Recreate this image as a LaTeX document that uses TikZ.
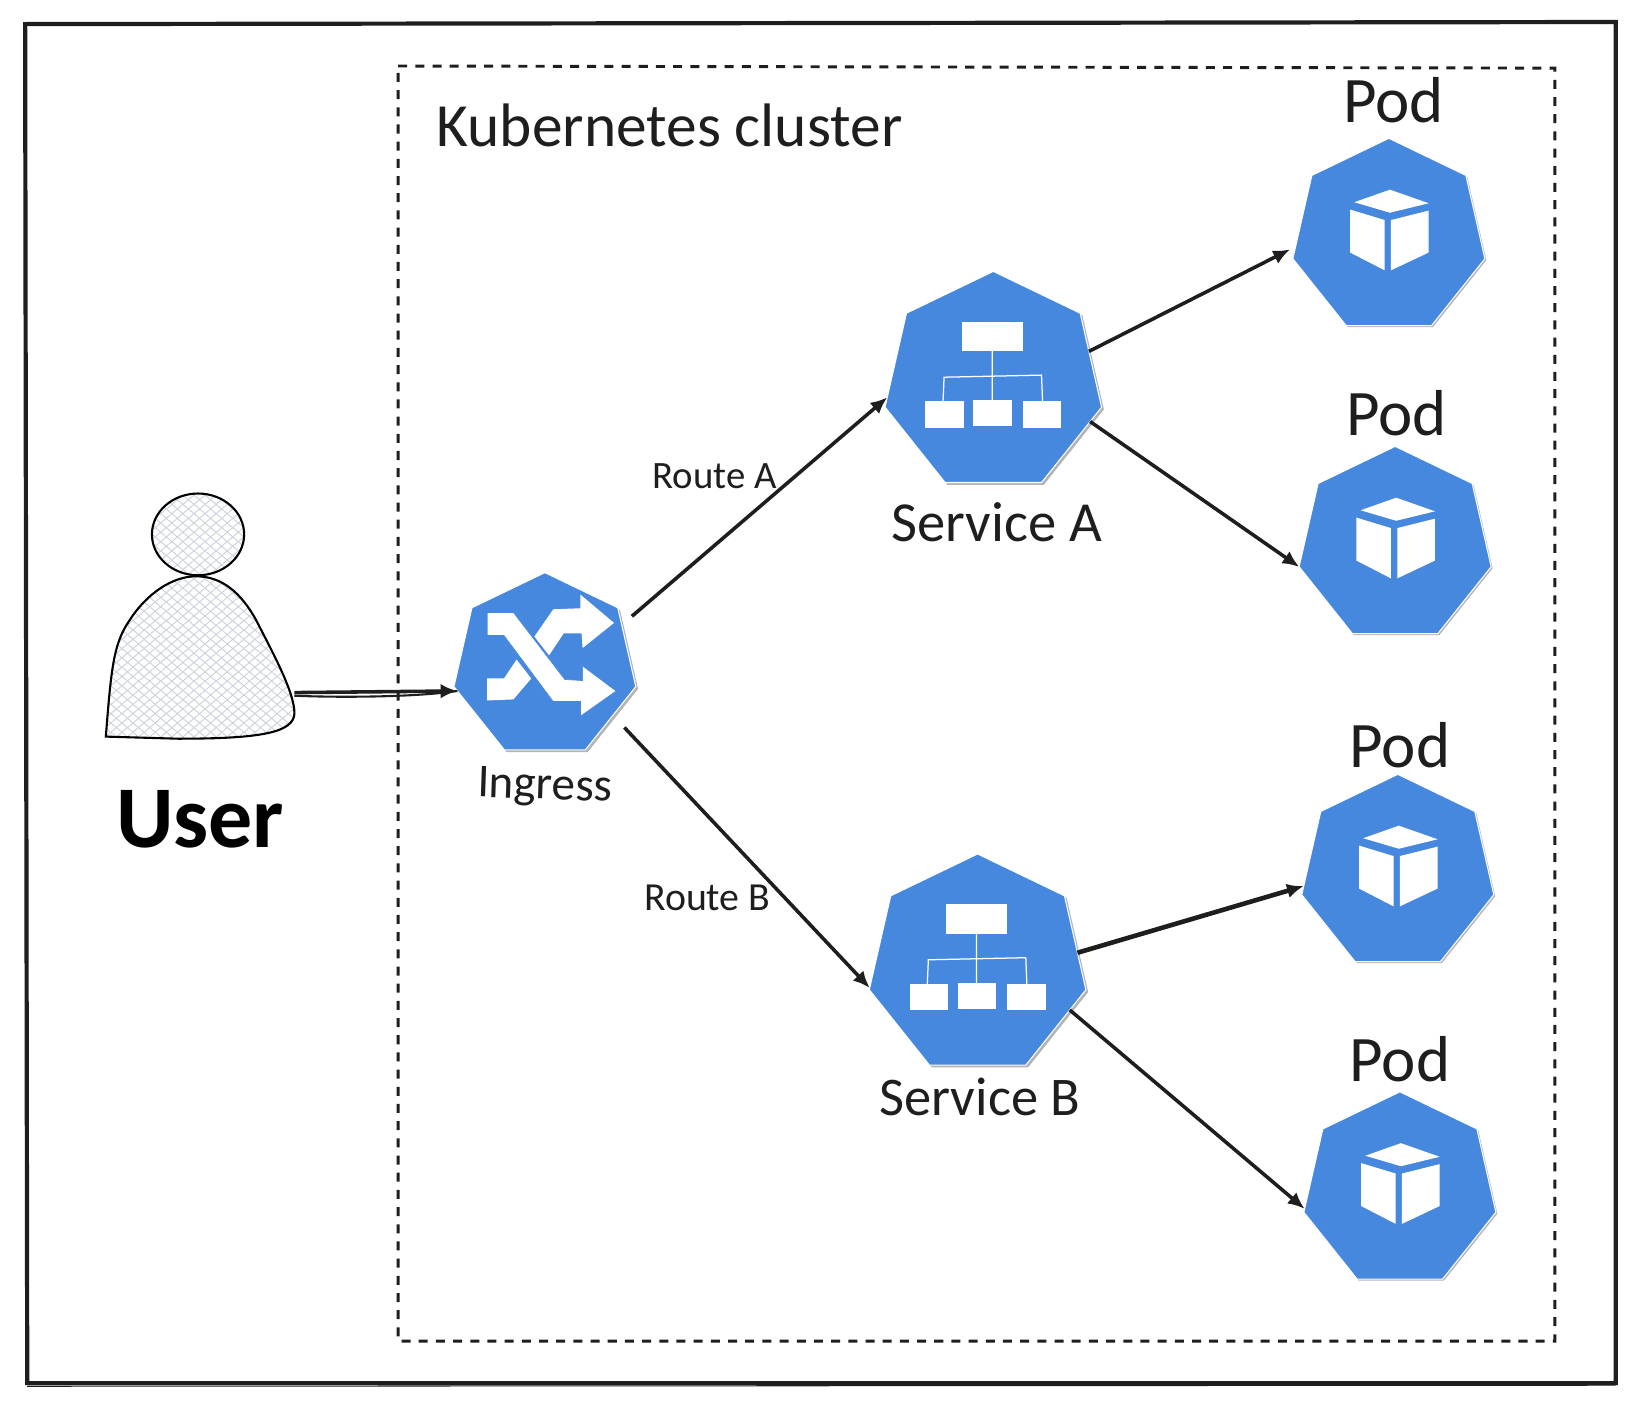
\documentclass[tikz,border=0pt]{standalone}
\usepackage{fontspec}
\setmainfont{Carlito}
\usetikzlibrary{shapes.geometric,arrows.meta,patterns.meta,shadows}
\definecolor{ink}{HTML}{1E1E1E}
\definecolor{kblue}{HTML}{4688DD}
\definecolor{kgrey}{HTML}{B4B4B4}
\definecolor{hatchc}{HTML}{CBD2DC}
\tikzset{
  kube/.style={regular polygon,regular polygon sides=7,inner sep=0pt,outer sep=0pt,fill=kblue,draw=white,line width=.5pt},
  podk/.style={kube,minimum size=94pt,copy shadow={shadow xshift=.7pt,shadow yshift=-.7pt,fill=kgrey,draw=none}},
  svck/.style={kube,minimum size=106pt,copy shadow={shadow xshift=1.1pt,shadow yshift=-1.1pt,fill=kgrey,draw=none}},
  lbl/.style={inner sep=0pt,text=ink},
  flow/.style={draw=ink,line width=1.7pt,-{Latex[length=8pt,width=7pt]}},
  hatchf/.style={preaction={pattern={Lines[angle=40,distance=3.4pt,line width=.45pt]},pattern color=hatchc},
                 preaction={pattern={Lines[angle=-40,distance=3.4pt,line width=.45pt]},pattern color=hatchc}},
  cube/.pic={
    \fill[white] (1,-45) -- (38,-32) -- (1,-23) -- (-33,-33) -- cycle;
    \fill[white] (-37,-26) -- (-4,-16) -- (-4,32) -- (-37,15) -- cycle;
    \fill[white] (2,-16) -- (38,-25) -- (38,15) -- (2,32) -- cycle;
  },
  tree/.pic={
    \fill[white] (-30,-58) rectangle (28,-30);
    \fill[white] (-65,18) rectangle (-28,43);
    \fill[white] (-19,17) rectangle (18,42);
    \fill[white] (28,18) rectangle (65,43);
    \draw[white,line width=.6pt] (-1,-30) -- (-1,18) (-48,18) -- (-47,-5) -- (46,-7) -- (47,18);
  },
  shuffle/.pic={
    \fill[white] (-55,12) -- (-39,12) -- (-27,-6) -- (-13,12) -- (-30,32) -- (-55,33) -- cycle;
    \fill[white] (-10,-28) -- (8,-54) -- (34,-55) -- (34,-68) -- (66,-41) -- (36,-17) -- (35,-31) -- (18,-31) -- (4,-10) -- cycle;
    \fill[white,draw=kblue,line width=.3pt] (-55,-51) -- (-30,-51) -- (19,13) -- (36,14) -- (36,0) -- (68,24) -- (34,48) -- (34,34) -- (8,34) -- (-39,-29) -- (-55,-29) -- cycle;
  }
}
\begin{document}
\begin{tikzpicture}[x=.5pt,y=-.5pt]
\useasboundingbox (0,0) rectangle (1569,1338);
\draw[ink,line width=2pt] (24,23) -- (1542,21) -- (1542,1320) -- (26,1320) -- cycle;
\draw[ink,line width=.5pt] (26,1323) -- (1542,1322);
\draw[ink,line width=1.4pt,dash pattern=on 4.3pt off 3.9pt] (380,63) -- (1484,65) -- (1484,1280) -- (380,1280) -- cycle;

\node (ingress) [svck,minimum size=89pt] at (520,635.5) {};
\node (svcA) [svck] at (948,365) {};
\node (svcB) [svck] at (933,921) {};
\node (pod1) [podk] at (1325.5,226) {};
\node (pod2) [podk] at (1331.5,520) {};
\node (pod3) [podk] at (1334,833) {};
\node (pod4) [podk] at (1336,1136) {};
\pic at (ingress) {shuffle};
\pic at (svcA) {tree};
\pic at (svcB) {tree};
\pic at (pod1) {cube};
\pic at (pod2) {cube};
\pic at (pod3) {cube};
\pic at (pod4) {cube};

\draw[black,line width=1pt,hatchf] (189,510) ellipse [x radius=44,y radius=39];
\draw[black,line width=1pt,hatchf] (101,703) .. controls (106,640) and (108,615) .. (123,593)
  .. controls (140,566) and (165,550) .. (187,550) .. controls (212,550) and (230,566) .. (244,591)
  .. controls (262,626) and (281,661) .. (281,681) .. controls (280,699) and (250,705) .. (170,705) -- cycle;
\coordinate (userR) at (281,661);
\coordinate (userS) at (281,664);

\draw[flow] (userR) -- (ingress.196.5);
\draw[draw=ink,line width=1pt] (userS) .. controls (330,666) and (400,665) .. (ingress.196.5);
\draw[flow,shorten <=6.4pt] (ingress.28.7) -- (svcA.188);
\draw[flow,shorten <=8pt] (ingress.-36.5) -- (svcB.192);
\draw[flow,shorten >=3pt] (svcA.18.2) -- (pod1.186.6);
\draw[flow] (svcA.-22.2) -- (pod2.193);
\draw[flow,line width=2.2pt] (svcB.7.3) -- (pod3.188.7);
\draw[flow] (svcB.-26.6) -- (pod4.191.3);

\node (lblCluster) [lbl,font=\fontsize{29.3}{30}\selectfont] at (639,120) {Kubernetes cluster};
\node (lblPod1) [lbl,font=\fontsize{31}{32}\selectfont] at (1330,96) {Pod};
\node (lblPod2) [lbl,font=\fontsize{31}{32}\selectfont] at (1333,394) {Pod};
\node (lblPod3) [lbl,font=\fontsize{31}{32}\selectfont] at (1336,711) {Pod};
\node (lblPod4) [lbl,font=\fontsize{31}{32}\selectfont] at (1336,1011) {Pod};
\node (lblUser) [lbl,text=black,font=\bfseries\fontsize{42}{44}\selectfont] at (191,782) {User};
\node (lblIngress) [lbl,rotate=-2,font=\fontsize{22.5}{23}\selectfont] at (520,752) {Ingress};
\node (lblSvcA) [lbl,font=\fontsize{27}{28}\selectfont] at (951,498) {Service A};
\node (lblSvcB) [lbl,font=\fontsize{26}{28}\selectfont] at (935,1047) {Service B};
\node (lblRouteA) [lbl,font=\fontsize{18.5}{19}\selectfont] at (682,454) {Route A};
\node (lblRouteB) [lbl,font=\fontsize{19}{19}\selectfont] at (675,857) {Route B};
\end{tikzpicture}
\end{document}
